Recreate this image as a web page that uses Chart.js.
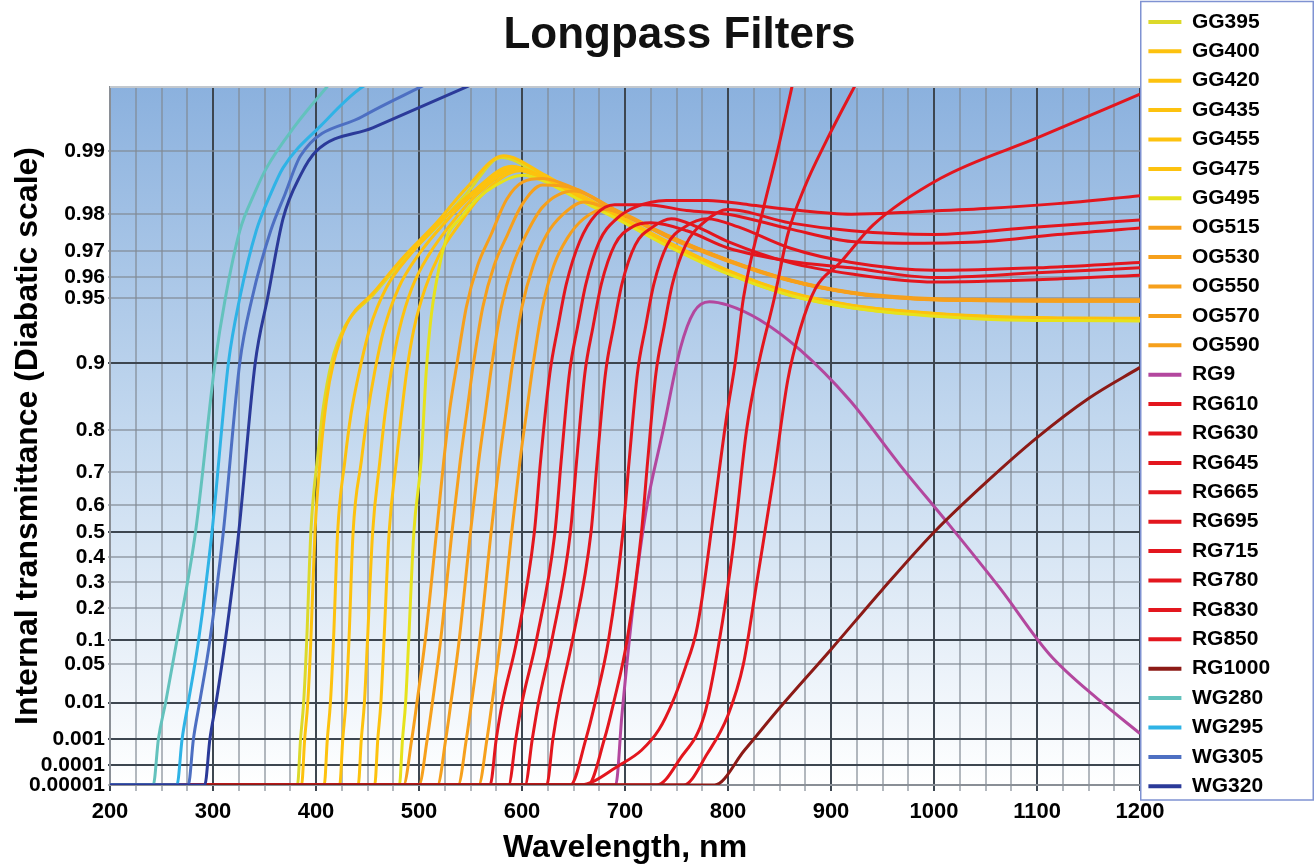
<!DOCTYPE html>
<html>
<head>
<meta charset="utf-8">
<title>Longpass Filters</title>
<script src="https://cdn.jsdelivr.net/npm/chart.js@4"></script>
<style>
  html, body { margin: 0; padding: 0; background: #fff; }
</style>
</head>
<body>
<canvas id="filterChart" width="1315" height="864"></canvas>
<script>
// y axis (diabatic scale) ticks
const yTicks = [0.00001, 0.0001, 0.001, 0.01, 0.05, 0.1, 0.2, 0.3, 0.4, 0.5, 0.6, 0.7, 0.8, 0.9, 0.95, 0.96, 0.97, 0.98, 0.99];
const yMajor = [0.0001, 0.001, 0.01, 0.1, 0.5, 0.9];
const Y_MIN = 0.00001;
const Y_MAX = 0.9951;

// wavelength (nm) and internal transmittance per filter
const gg395Nm = [200, 382, 385, 388, 391, 395, 402, 407, 415, 428, 456, 485, 517, 546, 580, 620, 650, 690, 740, 800, 860, 920, 980, 1050, 1120, 1200];
const gg395T = [1e-5, 1e-5, 0.001, 0.01, 0.1, 0.5, 0.75, 0.84, 0.9, 0.932, 0.952, 0.967, 0.977, 0.984, 0.9893, 0.9868, 0.9838, 0.9795, 0.9722, 0.9618, 0.9515, 0.9445, 0.9405, 0.9378, 0.9368, 0.9365];
const gg400Nm = [200, 386, 389, 392, 395, 399, 405, 410, 417, 430, 456, 485, 517, 546, 582, 620, 650, 690, 740, 800, 860, 920, 980, 1050, 1120, 1200];
const gg400T = [1e-5, 1e-5, 0.001, 0.01, 0.1, 0.5, 0.76, 0.85, 0.9, 0.934, 0.953, 0.968, 0.978, 0.985, 0.9895, 0.9872, 0.9845, 0.9802, 0.9732, 0.963, 0.953, 0.946, 0.942, 0.9392, 0.938, 0.9378];
const gg420Nm = [200, 408, 411, 414, 417, 421, 428, 434, 442, 452, 468, 492, 520, 550, 590, 620, 650, 690, 740, 800, 860, 920, 980, 1050, 1120, 1200];
const gg420T = [1e-5, 1e-5, 0.001, 0.01, 0.1, 0.5, 0.73, 0.83, 0.89, 0.93, 0.955, 0.969, 0.978, 0.984, 0.9882, 0.9868, 0.9842, 0.98, 0.9728, 0.9628, 0.9528, 0.9458, 0.9418, 0.9388, 0.9378, 0.9375];
const gg435Nm = [200, 423, 426, 429, 432, 436, 444, 450, 457, 466, 480, 500, 525, 553, 592, 620, 650, 690, 740, 800, 860, 920, 980, 1050, 1120, 1200];
const gg435T = [1e-5, 1e-5, 0.001, 0.01, 0.1, 0.5, 0.73, 0.83, 0.89, 0.93, 0.955, 0.969, 0.978, 0.984, 0.988, 0.9866, 0.984, 0.9798, 0.9725, 0.9625, 0.9525, 0.9455, 0.9415, 0.9385, 0.9375, 0.9372];
const gg455Nm = [200, 441, 444, 447, 450, 455, 462, 467, 473, 481, 493, 510, 532, 557, 595, 620, 650, 690, 740, 800, 860, 920, 980, 1050, 1120, 1200];
const gg455T = [1e-5, 1e-5, 0.001, 0.01, 0.1, 0.5, 0.73, 0.83, 0.89, 0.93, 0.955, 0.969, 0.978, 0.984, 0.9878, 0.9865, 0.9838, 0.9796, 0.9722, 0.9622, 0.9522, 0.9452, 0.9412, 0.9382, 0.9372, 0.937];
const gg475Nm = [200, 457, 460, 463, 466, 471, 478, 483, 488, 495, 506, 520, 540, 562, 598, 620, 650, 690, 740, 800, 860, 920, 980, 1050, 1120, 1200];
const gg475T = [1e-5, 1e-5, 0.001, 0.01, 0.1, 0.5, 0.73, 0.83, 0.89, 0.93, 0.955, 0.969, 0.978, 0.984, 0.9876, 0.9864, 0.9836, 0.9794, 0.972, 0.962, 0.952, 0.945, 0.941, 0.938, 0.937, 0.9368];
const gg495Nm = [200, 481, 484, 487, 490, 495, 502, 507, 512, 520, 528, 540, 556, 575, 601, 620, 650, 690, 740, 800, 860, 920, 980, 1050, 1120, 1200];
const gg495T = [1e-5, 1e-5, 0.001, 0.01, 0.1, 0.5, 0.73, 0.89, 0.94, 0.965, 0.975, 0.979, 0.983, 0.9855, 0.987, 0.9862, 0.9835, 0.9792, 0.9718, 0.9615, 0.9515, 0.9445, 0.9402, 0.9372, 0.9362, 0.936];

const og515Nm = [200, 485, 493, 498, 506, 517, 524, 530, 537, 546, 557, 570, 585, 601, 620, 650, 690, 740, 800, 860, 920, 980, 1050, 1120, 1200];
const og515T = [1e-5, 1e-5, 0.001, 0.01, 0.1, 0.5, 0.73, 0.84, 0.9, 0.945, 0.965, 0.975, 0.983, 0.986, 0.9865, 0.985, 0.981, 0.975, 0.967, 0.959, 0.953, 0.9502, 0.9492, 0.949, 0.949];
const og530Nm = [200, 500, 508, 513, 521, 532, 540, 547, 553, 562, 573, 586, 600, 620, 650, 690, 740, 800, 860, 920, 980, 1050, 1120, 1200];
const og530T = [1e-5, 1e-5, 0.001, 0.01, 0.1, 0.5, 0.73, 0.84, 0.9, 0.945, 0.965, 0.975, 0.982, 0.9855, 0.985, 0.981, 0.9748, 0.9668, 0.9588, 0.9528, 0.9498, 0.9488, 0.9486, 0.9486];
const og550Nm = [200, 518, 526, 531, 539, 550, 558, 565, 571, 580, 591, 604, 620, 650, 690, 740, 800, 860, 920, 980, 1050, 1120, 1200];
const og550T = [1e-5, 1e-5, 0.001, 0.01, 0.1, 0.5, 0.73, 0.84, 0.9, 0.945, 0.965, 0.975, 0.9815, 0.9845, 0.9808, 0.9748, 0.9668, 0.9588, 0.9528, 0.9498, 0.9488, 0.9485, 0.9485];
const og570Nm = [200, 538, 546, 551, 559, 570, 578, 585, 591, 600, 611, 624, 640, 660, 690, 740, 800, 860, 920, 980, 1050, 1120, 1200];
const og570T = [1e-5, 1e-5, 0.001, 0.01, 0.1, 0.5, 0.73, 0.84, 0.9, 0.945, 0.965, 0.975, 0.98, 0.9825, 0.9806, 0.9746, 0.9666, 0.9586, 0.9526, 0.9496, 0.9486, 0.9484, 0.9484];
const og590Nm = [200, 558, 566, 571, 579, 590, 598, 605, 611, 620, 631, 644, 660, 680, 700, 740, 800, 860, 920, 980, 1050, 1120, 1200];
const og590T = [1e-5, 1e-5, 0.001, 0.01, 0.1, 0.5, 0.73, 0.84, 0.9, 0.945, 0.965, 0.974, 0.979, 0.981, 0.98, 0.9745, 0.9665, 0.9585, 0.9525, 0.9495, 0.9485, 0.9482, 0.9482];

const rg9Nm = [200, 691, 697, 707, 720, 737, 754, 767, 782, 800, 831, 870, 918, 967, 1015, 1064, 1112, 1161, 1200];
const rg9T = [1e-5, 1e-5, 0.005, 0.18, 0.57, 0.8, 0.915, 0.942, 0.948, 0.946, 0.9366, 0.9127, 0.8526, 0.72, 0.527, 0.275, 0.068, 0.011, 0.0015];

const rg610Nm = [200, 569, 575, 581, 595, 612, 618, 627, 635, 643, 656, 672, 690, 720, 760, 800, 860, 920, 980, 1050, 1120, 1200];
const rg610T = [1e-5, 1e-5, 0.001, 0.01, 0.1, 0.5, 0.73, 0.888, 0.932, 0.957, 0.973, 0.98, 0.982, 0.982, 0.9808, 0.98, 0.9765, 0.973, 0.9725, 0.973, 0.975, 0.9767];
const rg630Nm = [200, 587, 594, 600, 614, 632, 638, 646, 654, 662, 675, 692, 710, 740, 780, 820, 860, 920, 980, 1050, 1120, 1200];
const rg630T = [1e-5, 1e-5, 0.001, 0.01, 0.1, 0.5, 0.73, 0.888, 0.932, 0.957, 0.973, 0.979, 0.9815, 0.9828, 0.9828, 0.982, 0.981, 0.98, 0.9805, 0.9812, 0.9822, 0.9837];
const rg645Nm = [200, 603, 610, 616, 629, 647, 653, 661, 669, 677, 690, 707, 725, 760, 800, 860, 920, 1000, 1100, 1200];
const rg645T = [1e-5, 1e-5, 0.001, 0.01, 0.1, 0.5, 0.73, 0.888, 0.932, 0.957, 0.972, 0.977, 0.978, 0.976, 0.971, 0.9665, 0.964, 0.96, 0.962, 0.964];
const rg665Nm = [200, 624, 630, 636, 649, 667, 673, 681, 689, 697, 710, 727, 745, 770, 800, 860, 920, 1000, 1100, 1200];
const rg665T = [1e-5, 1e-5, 0.001, 0.01, 0.1, 0.5, 0.73, 0.888, 0.932, 0.957, 0.972, 0.977, 0.979, 0.977, 0.973, 0.966, 0.9615, 0.958, 0.959, 0.961];
const rg695Nm = [200, 647, 662, 671, 684, 698, 704, 712, 720, 728, 741, 758, 780, 810, 860, 920, 1000, 1100, 1200];
const rg695T = [1e-5, 1e-5, 0.001, 0.01, 0.1, 0.5, 0.73, 0.888, 0.932, 0.957, 0.972, 0.977, 0.979, 0.977, 0.971, 0.966, 0.963, 0.964, 0.966];
const rg715Nm = [200, 664, 680, 689, 702, 716, 722, 730, 738, 746, 759, 776, 800, 860, 920, 1000, 1100, 1200];
const rg715T = [1e-5, 1e-5, 0.001, 0.01, 0.1, 0.5, 0.73, 0.888, 0.932, 0.957, 0.972, 0.978, 0.981, 0.978, 0.976, 0.975, 0.977, 0.9787];
const rg780Nm = [200, 656, 695, 716, 733, 746, 759, 769, 775, 786, 799, 807, 815, 833, 848, 866];
const rg780T = [1e-5, 1e-5, 0.0001, 0.0004, 0.002, 0.01, 0.046, 0.12, 0.24, 0.57, 0.83, 0.9, 0.95, 0.98, 0.99, 0.996];
const rg830Nm = [200, 731, 754, 777, 791, 805, 818, 830, 845, 858, 874, 895, 932];
const rg830T = [1e-5, 1e-5, 0.0002, 0.005, 0.09, 0.44, 0.8, 0.9, 0.95, 0.975, 0.985, 0.991, 0.996];
const rg850Nm = [200, 757, 780, 800, 815, 828, 845, 858, 870, 885, 909, 941, 1006, 1103, 1200];
const rg850T = [1e-5, 1e-5, 0.0003, 0.005, 0.05, 0.3, 0.7, 0.88, 0.93, 0.955, 0.966, 0.9775, 0.9865, 0.9915, 0.9947];
const rg1000Nm = [200, 787, 816, 850, 900, 950, 1000, 1050, 1100, 1150, 1200];
const rg1000T = [1e-5, 1e-5, 0.0004, 0.0075, 0.078, 0.27, 0.5, 0.67, 0.785, 0.855, 0.895];

const wg280Nm = [200, 242, 247, 254, 265, 283, 302, 312, 326, 340, 352, 380, 412];
const wg280T = [1e-5, 1e-5, 0.001, 0.01, 0.1, 0.5, 0.9, 0.95, 0.976, 0.984, 0.988, 0.9925, 0.9952];
const wg295Nm = [200, 265, 270, 276, 286, 299, 315, 326, 342, 356, 368, 405, 445, 455];
const wg295T = [1e-5, 1e-5, 0.001, 0.01, 0.1, 0.5, 0.9, 0.95, 0.976, 0.984, 0.988, 0.9925, 0.9951, 0.9953];
const wg305Nm = [200, 276, 281, 287, 297, 310, 326, 338, 356, 370, 385, 445, 505];
const wg305T = [1e-5, 1e-5, 0.001, 0.01, 0.1, 0.5, 0.9, 0.95, 0.976, 0.984, 0.9895, 0.9932, 0.9952];
const wg320Nm = [200, 292, 297, 303, 312, 325, 341, 353, 368, 385, 400, 455, 550];
const wg320T = [1e-5, 1e-5, 0.001, 0.01, 0.1, 0.5, 0.9, 0.95, 0.979, 0.987, 0.99, 0.9923, 0.9952];

const yellowGreen = '#dcd92a';
const gold = '#fdc20e';
const orange = '#f6a01c';
const red = '#e3161e';

const series = [
  ['GG395', gg395Nm, gg395T, yellowGreen],
  ['GG400', gg400Nm, gg400T, gold],
  ['GG420', gg420Nm, gg420T, gold],
  ['GG435', gg435Nm, gg435T, gold],
  ['GG455', gg455Nm, gg455T, gold],
  ['GG475', gg475Nm, gg475T, gold],
  ['GG495', gg495Nm, gg495T, '#e6e21c'],
  ['OG515', og515Nm, og515T, orange],
  ['OG530', og530Nm, og530T, orange],
  ['OG550', og550Nm, og550T, orange],
  ['OG570', og570Nm, og570T, orange],
  ['OG590', og590Nm, og590T, orange],
  ['RG9', rg9Nm, rg9T, '#b3479e'],
  ['RG610', rg610Nm, rg610T, red],
  ['RG630', rg630Nm, rg630T, red],
  ['RG645', rg645Nm, rg645T, red],
  ['RG665', rg665Nm, rg665T, red],
  ['RG695', rg695Nm, rg695T, red],
  ['RG715', rg715Nm, rg715T, red],
  ['RG780', rg780Nm, rg780T, red],
  ['RG830', rg830Nm, rg830T, red],
  ['RG850', rg850Nm, rg850T, red],
  ['RG1000', rg1000Nm, rg1000T, '#8c1a16'],
  ['WG280', wg280Nm, wg280T, '#63c2bd'],
  ['WG295', wg295Nm, wg295T, '#2fb3e6'],
  ['WG305', wg305Nm, wg305T, '#4d6fc2'],
  ['WG320', wg320Nm, wg320T, '#2b3a99'],
];

const FONT = "'Liberation Sans', Arial, sans-serif";
const LEGEND_WIDTH = 175;

// diabatic transform: -log10(-log10(T))
const diabatic = v => -Math.log10(-Math.log10(v));

class DiabaticScale extends Chart.Scale {
  static id = 'diabatic';
  static defaults = {};

  parse(raw) {
    return typeof raw === 'number' ? raw : Number(raw);
  }
  determineDataLimits() {
    this.min = this.options.min;
    this.max = this.options.max;
  }
  buildTicks() {
    return yTicks.map(v => ({ value: v }));
  }
  getLabelForValue(v) {
    return String(v);
  }
  configure() {
    super.configure();
    this._start = diabatic(this.min);
    this._range = diabatic(this.max) - this._start;
  }
  getPixelForValue(v) {
    const t = Math.min(Math.max(v, 1e-9), 0.99999);
    return this.getPixelForDecimal((diabatic(t) - this._start) / this._range);
  }
  getValueForPixel(p) {
    const d = this._start + this.getDecimalForPixel(p) * this._range;
    return Math.pow(10, -Math.pow(10, -d));
  }
}
Chart.register(DiabaticScale);

// blue-to-white fill behind the plot
const plotBackground = {
  id: 'plotBackground',
  beforeDraw(chart) {
    const { ctx, chartArea: a } = chart;
    const g = ctx.createLinearGradient(0, a.top, 0, a.bottom);
    g.addColorStop(0, '#8bb1de');
    g.addColorStop(0.5, '#c4d9ef');
    g.addColorStop(1, '#ffffff');
    ctx.save();
    ctx.fillStyle = g;
    ctx.fillRect(a.left, a.top, a.right - a.left, a.bottom - a.top);
    ctx.restore();
  },
  beforeDatasetsDraw(chart) {
    const { ctx, chartArea: a } = chart;
    ctx.save();
    ctx.strokeStyle = '#c2c8ce';
    ctx.lineWidth = 2;
    ctx.beginPath();
    ctx.moveTo(a.left, a.top);
    ctx.lineTo(a.right, a.top);
    ctx.stroke();
    ctx.restore();
  }
};

// fixed legend width, frame round the legend, title nudged right
const legendFrame = {
  id: 'legendFrame',
  beforeLayout(chart) {
    const lg = chart.legend;
    if (lg && !lg._fixedWidth) {
      const fit = lg.fit.bind(lg);
      lg.fit = function () { fit(); this.width = LEGEND_WIDTH; };
      lg._fixedWidth = true;
    }
  },
  afterLayout(chart) {
    if (chart.titleBlock) chart.titleBlock.left = 44;
  },
  afterDraw(chart) {
    const lg = chart.legend;
    const { ctx } = chart;
    const bottom = chart.chartArea.bottom + 15;
    ctx.save();
    ctx.strokeStyle = '#7f92d2';
    ctx.lineWidth = 1.5;
    ctx.strokeRect(lg.left + 0.75, 1.5, chart.width - lg.left - 2.5, bottom - 1.5);
    ctx.restore();
  }
};

const datasets = series.map(([label, nm, t, color], i) => ({
  label,
  data: nm.map((x, k) => ({ x, y: t[k] })),
  borderColor: color,
  backgroundColor: color,
  borderWidth: 3,
  pointRadius: 0,
  cubicInterpolationMode: 'monotone',
  order: series.length - i
}));

const gridDark = '#3d4650';
const gridLight = 'rgba(128,136,146,0.6)';

new Chart(document.getElementById('filterChart'), {
  type: 'line',
  data: { datasets },
  options: {
    responsive: false,
    animation: false,
    events: [],
    layout: { padding: 0 },
    scales: {
      x: {
        type: 'linear',
        min: 200,
        max: 1200,
        afterFit: s => { s.height = 79; },
        ticks: {
          stepSize: 25,
          autoSkip: false,
          maxRotation: 0,
          padding: 8,
          color: '#000',
          font: { family: FONT, size: 22, weight: 'bold' },
          callback: v => (v % 100 === 0 ? String(v) : '')
        },
        grid: {
          color: c => (c.tick && c.tick.value % 100 === 0 ? gridDark : gridLight),
          lineWidth: 2,
          tickLength: 6
        },
        border: { color: '#8a8f96', width: 2 },
        title: {
          display: true,
          text: 'Wavelength, nm',
          color: '#000',
          font: { family: FONT, size: 32, weight: 'bold', lineHeight: 1 },
          padding: { top: 0, bottom: 0 }
        }
      },
      y: {
        type: 'diabatic',
        position: 'left',
        min: Y_MIN,
        max: Y_MAX,
        afterFit: s => { s.width = 110; },
        ticks: {
          autoSkip: false,
          padding: 3,
          color: '#000',
          font: { family: FONT, size: 21, weight: 'bold' },
          callback: v => String(v)
        },
        grid: {
          color: c => (c.tick && yMajor.includes(c.tick.value) ? gridDark : gridLight),
          lineWidth: 2,
          tickLength: 2
        },
        border: { color: '#8a8f96', width: 2 },
        title: {
          display: true,
          text: 'Internal transmittance (Diabatic scale)',
          color: '#000',
          font: { family: FONT, size: 32, weight: 'bold', lineHeight: 1 },
          padding: { top: 12, bottom: 0 }
        }
      }
    },
    plugins: {
      title: {
        display: true,
        text: 'Longpass Filters',
        color: '#111',
        font: { family: FONT, size: 44, weight: 'bold' },
        padding: { top: 9, bottom: 25.2 }
      },
      legend: {
        position: 'right',
        align: 'start',
        reverse: true,
        title: {
          display: true,
          text: '',
          font: { size: 1, lineHeight: 1 },
          padding: { top: 2, bottom: 0 }
        },
        labels: {
          boxWidth: 33,
          boxHeight: 4,
          padding: 8.4,
          color: '#000',
          font: { family: FONT, size: 21, weight: 'bold' },
          generateLabels: chart =>
            Chart.defaults.plugins.legend.labels.generateLabels(chart).map(item => ({ ...item, lineWidth: 0 }))
        }
      },
      tooltip: { enabled: false }
    }
  },
  plugins: [plotBackground, legendFrame]
});
</script>
</body>
</html>
